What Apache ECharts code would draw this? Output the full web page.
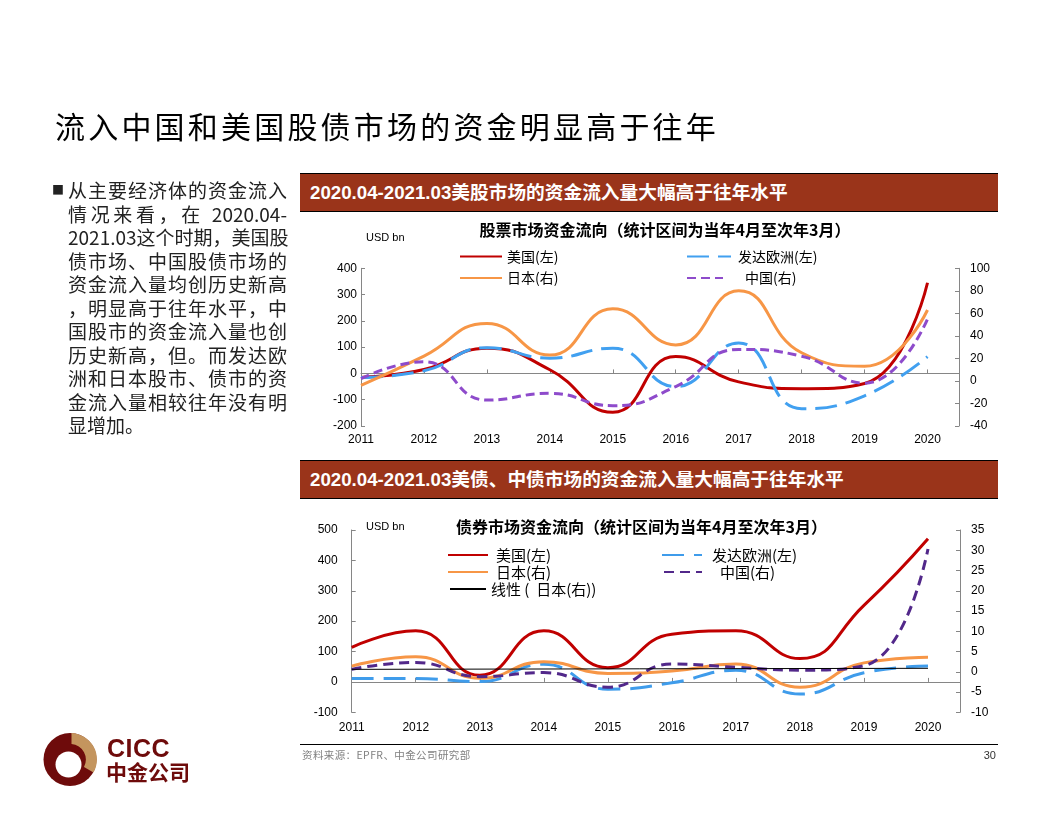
<!DOCTYPE html>
<html>
<head>
<meta charset="utf-8">
<script src="https://cdn.jsdelivr.net/npm/echarts@6/dist/echarts.min.js"></script>
<style>
html,body{margin:0;padding:0;background:#fff;width:1056px;height:816px;overflow:hidden;font-family:'Noto Sans CJK SC',sans-serif;}
#chart{position:absolute;left:0;top:0;width:1056px;height:816px;}
.abs{position:absolute;}
#slideTitle{left:55px;top:104px;font-size:30px;letter-spacing:3.2px;color:#000;white-space:nowrap;line-height:42px;}
#para{left:68px;top:178px;width:219px;font-size:19px;line-height:23.5px;color:#222;}
#para div{text-align:justify;text-align-last:justify;white-space:nowrap;}
#para div.last{text-align-last:left;}
#bullet{left:52px;top:182px;font-size:12px;line-height:16px;color:#222;}
.bar{left:300px;width:698px;height:37px;background:#9A341A;border-top:1px solid #000;border-bottom:1.5px solid #000;color:#fff;font-weight:bold;font-size:18.7px;line-height:37px;font-family:'Liberation Sans','Noto Sans CJK SC',sans-serif;white-space:nowrap;box-sizing:content-box;}
.bar span{padding-left:10px;}
#foot{left:300px;top:744px;width:698px;height:0;border-top:1.5px solid #000;}
#src{left:302px;top:747px;font-size:10.5px;letter-spacing:0.4px;color:#808080;line-height:16px;white-space:nowrap;}
#page{left:960px;top:747px;width:36px;text-align:right;font-size:11px;color:#333;line-height:16px;font-family:'Liberation Sans',sans-serif;}
#cicc{left:107px;top:734px;font-size:25px;font-weight:bold;color:#6E0B0B;font-family:'Liberation Sans',sans-serif;line-height:28px;letter-spacing:0.5px;}
#cicccn{left:106px;top:759px;font-size:21px;font-weight:bold;color:#6E0B0B;line-height:24px;letter-spacing:0px;}
</style>
</head>
<body>
<div id="chart"></div>
<div id="slideTitle" class="abs">流入中国和美国股债市场的资金明显高于往年</div>
<div id="bullet" class="abs">■</div>
<div id="para" class="abs">
<div>从主要经济体的资金流入</div>
<div>情况来看，在 2020.04-</div>
<div>2021.03这个时期，美国股</div>
<div>债市场、中国股债市场的</div>
<div>资金流入量均创历史新高</div>
<div>，明显高于往年水平，中</div>
<div>国股市的资金流入量也创</div>
<div>历史新高，但。而发达欧</div>
<div>洲和日本股市、债市的资</div>
<div>金流入量相较往年没有明</div>
<div class="last">显增加。</div>
</div>
<div class="abs bar" style="top:173px;"><span>2020.04-2021.03美股市场的资金流入量大幅高于往年水平</span></div>
<div class="abs bar" style="top:460px;"><span>2020.04-2021.03美债、中债市场的资金流入量大幅高于往年水平</span></div>
<div id="foot" class="abs"></div>
<div id="src" class="abs">资料来源：EPFR、中金公司研究部</div>
<div id="page" class="abs">30</div>
<svg class="abs" style="left:40px;top:729px;" width="60" height="62" viewBox="0 0 60 62">
  <circle cx="30" cy="30.5" r="26.5" fill="#6E0B0B"/>
  <path d="M31.5 4.1 A26.4 26.4 0 0 1 53.5 43.5 L44 38 A15.5 15.5 0 0 0 31.5 15.1 Z" fill="#C4955E"/>
  <circle cx="28.5" cy="35.5" r="13" fill="#fff"/>
</svg>
<div id="cicc" class="abs">CICC</div>
<div id="cicccn" class="abs">中金公司</div>
<script>
// ---------------- data ----------------
const years = [2011, 2012, 2013, 2014, 2015, 2016, 2017, 2018, 2019, 2020];
// stock market flows (USD bn); US & Europe on left axis, Japan & China on right axis
const stockUS     = [-15, 15, 96, 14, -148, 64, -32, -58, -38, 345];
const stockEurope = [-15, 10, 98, 58, 96, -50, 116, -134, -85, 64];
const stockJapan  = [-4, 22, 51, 23, 64, 32, 80, 25, 13, 63];
const stockChina  = [2, 17, -17, -11, -22, -5, 28, 22, -2, 55];
// bond market flows (USD bn)
const bondUS      = [114, 168, 22, 168, 47, 157, 168, 77, 252, 471];
const bondEurope  = [11, 11, 1, 58, -24, -3, 38, -40, 30, 52];
const bondJapan   = [1.4, 3.7, -1.6, 2.5, -0.4, 0.2, 1.9, -3.8, 2.2, 3.6];
const bondChina   = [0.6, 2.3, -1.2, -0.2, -3.8, 1.9, 1.1, 0.4, 1.5, 30.3];
// linear trend of Japan bond flows, read at its two ends
const trendYears  = [2011, 2020];
const bondJapanTrend = [0.6, 0.86];
// axis ticks
const stockLeftTicks  = {min: -200, max: 400, interval: 100};
const stockRightTicks = {min: -40, max: 100, interval: 20};
const bondLeftTicks   = {min: -100, max: 500, interval: 100};
const bondRightTicks  = {min: -10, max: 35, interval: 5};
const chartTitles = ['股票市场资金流向（统计区间为当年4月至次年3月）', '债券市场资金流向（统计区间为当年4月至次年3月）'];
const unitLabel = 'USD bn';

// ---------------- chart ----------------
const pairs = (xs, ys) => xs.map((x, i) => [x, ys[i]]);
const AX = '#868686';
const NUM_FONT = "'Liberation Sans', Arial, sans-serif";
const CJK_FONT = "'Noto Sans CJK SC', sans-serif";
const yearFmt = v => (Number.isInteger(v) ? String(v) : '');

function xAxes(grid, margin) {
  return [
    {gridIndex: grid, type: 'value', min: 2011, max: 2020.5, interval: 1, position: 'bottom',
     axisLine: {show: false, onZero: false}, axisTick: {show: false}, splitLine: {show: false},
     axisLabel: {formatter: yearFmt, margin: margin, color: '#000', fontSize: 12, fontFamily: NUM_FONT, showMaxLabel: false}},
    {gridIndex: grid, type: 'value', min: 2011, max: 2020.5, interval: 1, position: 'top',
     axisLine: {show: true, onZero: true, lineStyle: {color: AX, width: 1}},
     axisTick: {show: true, inside: false, length: 4, lineStyle: {color: AX}},
     axisLabel: {show: false}, splitLine: {show: false}}
  ];
}
function yAxis(grid, ticks, pos, margin) {
  return {gridIndex: grid, type: 'value', position: pos, min: ticks.min, max: ticks.max, interval: ticks.interval,
    axisLine: {show: true, onZero: false, lineStyle: {color: AX, width: 1}},
    axisTick: {show: true, inside: true, length: 4, lineStyle: {color: AX}},
    splitLine: {show: false},
    axisLabel: {margin: margin, color: '#000', fontSize: 12, fontFamily: NUM_FONT}};
}
function line(name, x, y, yi, color, width, dash, xi) {
  return {name: name, type: 'line', xAxisIndex: xi, yAxisIndex: yi, data: pairs(x, y), smooth: 0.5,
    symbol: 'none', showSymbol: false, silent: true,
    lineStyle: {color: color, width: width, type: dash || 'solid', cap: 'butt'},
    itemStyle: {color: color}};
}
function leg(name, left, rowY, w, size, pad) {
  return {data: [name], left: left, top: rowY - 8, itemWidth: w, itemHeight: 10, padding: 0,
    selectedMode: false, itemStyle: {opacity: 0},
    textStyle: {fontSize: size, color: '#000', fontFamily: CJK_FONT, padding: [0, 0, 0, pad || 0], lineHeight: 16}};
}

const C = {red: '#C00000', orange: '#F79646', blue1: '#41A0F0', purple1: '#8E4BCB', blue2: '#3F9CEB', purple2: '#52288A'};

const option = {
  animation: false,
  textStyle: {fontFamily: NUM_FONT},
  grid: [
    {left: 361, right: 97, top: 268.3, height: 157.7, containLabel: false},
    {left: 351.7, right: 96, top: 530, height: 182.3, containLabel: false}
  ],
  xAxis: [].concat(xAxes(0, 8), xAxes(1, 9)),
  yAxis: [
    yAxis(0, stockLeftTicks, 'left', 4),
    yAxis(0, stockRightTicks, 'right', 11),
    yAxis(1, bondLeftTicks, 'left', 14),
    yAxis(1, bondRightTicks, 'right', 11)
  ],
  legend: [
    leg('美国(左)', 459, 256.5, 42, 14),
    leg('发达欧洲(左)', 686, 256.5, 44, 14, 2),
    leg('日本(右)', 459, 278, 42, 14),
    leg('中国(右)', 686, 278, 36, 14, 17),
    leg('美国(左) ', 447, 555, 40, 15, 3),
    leg('发达欧洲(左) ', 661, 555, 40, 15, 5),
    leg('日本(右) ', 447, 572, 40, 15, 3),
    leg('中国(右) ', 663, 572, 38, 15, 13),
    leg('线性 (  日本(右))', 449, 589, 36, 15, 0)
  ],
  series: [
    line('美国(左)', years, stockUS, 0, C.red, 3, null, 0),
    line('发达欧洲(左)', years, stockEurope, 0, C.blue1, 3, [22, 9], 0),
    line('日本(右)', years, stockJapan, 1, C.orange, 3, null, 0),
    line('中国(右)', years, stockChina, 1, C.purple1, 3, [9, 5], 0),
    line('美国(左) ', years, bondUS, 2, C.red, 3, null, 2),
    line('发达欧洲(左) ', years, bondEurope, 2, C.blue2, 3, [22, 10], 2),
    line('日本(右) ', years, bondJapan, 3, C.orange, 3, null, 2),
    line('中国(右) ', years, bondChina, 3, C.purple2, 3, [10, 6], 2),
    Object.assign(line('线性 (  日本(右))', trendYears, bondJapanTrend, 3, '#000', 1, null, 2), {smooth: false})
  ],
  graphic: [
    {type: 'text', x: 665, y: 230, style: {text: chartTitles[0], align: 'center', verticalAlign: 'middle', font: "bold 16px 'Noto Sans CJK SC', sans-serif", fill: '#000'}},
    {type: 'text', x: 641.5, y: 527, style: {text: chartTitles[1], align: 'center', verticalAlign: 'middle', font: "bold 16px 'Noto Sans CJK SC', sans-serif", fill: '#000'}},
    {type: 'text', x: 366, y: 238, style: {text: unitLabel, align: 'left', verticalAlign: 'middle', font: "11px 'Liberation Sans', Arial, sans-serif", fill: '#000'}},
    {type: 'text', x: 366, y: 527, style: {text: unitLabel, align: 'left', verticalAlign: 'middle', font: "11px 'Liberation Sans', Arial, sans-serif", fill: '#000'}}
  ]
};

const chart = echarts.init(document.getElementById('chart'), null, {renderer: 'canvas', width: 1056, height: 816});
chart.setOption(option);
</script>
</body>
</html>
